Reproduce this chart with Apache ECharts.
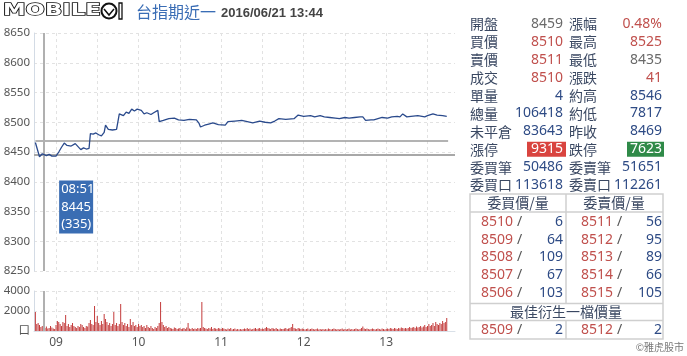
<!DOCTYPE html>
<html><head><meta charset="utf-8">
<script src="https://cdn.jsdelivr.net/npm/echarts@6/dist/echarts.min.js"></script>
<style>html,body{margin:0;padding:0;background:#fff}#c{width:687px;height:356px}</style>
</head><body><div id="c"></div>
<script>
// ---------- DATA ----------
const titleName = '台指期近一';
const titleTime = '2016/06/21 13:44';
const priceTicks = [8250, 8650, 50];
const volTicks = [0, 4000, 2000];
const hourLabels = ['09', '10', '11', '12', '13'];
const prevClose = 8469;
const cursorTime = '08:51', cursorPrice = 8445, cursorVol = 335;

const priceTimes = [
 '08:45','08:46','08:48','08:50','08:51','08:53','08:55','08:57','09:00','09:02',
 '09:04','09:06','09:08','09:09','09:11','09:12','09:14','09:16','09:18','09:20',
 '09:22','09:23','09:24','09:25','09:27','09:29','09:31','09:33','09:35','09:36',
 '09:38','09:41','09:44','09:45','09:46','09:49','09:51','09:53','09:55','09:57',
 '09:59','10:02','10:04','10:06','10:09','10:11','10:14','10:15','10:18','10:22',
 '10:26','10:29','10:33','10:37','10:42','10:44','10:45','10:48','10:51','10:54',
 '10:58','11:03','11:05','11:10','11:15','11:19','11:23','11:28','11:32','11:36',
 '11:39','11:42','11:47','11:53','11:56','12:00','12:05','12:08','12:12','12:15',
 '12:19','12:23','12:26','12:30','12:33','12:37','12:41','12:43','12:45','12:49',
 '12:51','12:54','12:57','13:01','13:04','13:08','13:10','13:12','13:15','13:18',
 '13:23','13:28','13:30','13:34','13:37','13:41','13:44'];
const priceValues = [
 8466,8458,8442,8447,8445,8444,8446,8443,8443,8450,
 8458,8465,8461,8464,8460,8463,8464,8459,8454,8457,
 8455,8453,8456,8481,8480,8482,8479,8477,8483,8495,
 8488,8487,8488,8490,8514,8511,8517,8515,8522,8519,
 8522,8520,8514,8516,8513,8516,8520,8501,8503,8506,
 8507,8504,8503,8505,8504,8498,8492,8495,8497,8499,
 8496,8495,8501,8502,8503,8501,8499,8502,8500,8499,
 8502,8506,8505,8506,8512,8510,8511,8509,8511,8509,
 8508,8507,8506,8508,8507,8508,8509,8509,8503,8504,
 8504,8506,8508,8507,8509,8510,8509,8514,8509,8510,
 8511,8509,8511,8514,8512,8511,8510];

// per-minute volume from 08:45
const volStart = '08:45';
const volumes = [
 1900,700,800,600,400,500,335,300,450,250,300,500,350,250,200,
 600,1000,900,700,500,900,800,1600,500,700,400,600,800,500,400,
 300,500,400,700,600,400,300,500,450,800,1100,700,600,2500,900,
 1500,800,600,1000,700,1700,1200,900,600,800,500,700,1900,600,800,
 500,700,2700,900,600,800,500,700,400,1200,600,900,500,600,400,
 700,500,600,400,500,300,600,400,300,500,300,200,400,300,500,
 800,2900,900,600,400,500,300,400,300,250,200,350,300,200,250,
 300,200,250,300,200,350,800,250,200,300,200,250,200,300,250,
 300,2900,400,300,250,200,300,250,400,200,300,250,200,300,250,
 200,300,250,200,150,250,200,300,150,200,250,150,200,150,200,
 150,200,250,200,300,200,250,150,200,250,300,200,250,300,200,
 250,200,300,400,300,250,200,300,250,200,300,200,150,250,200,
 200,250,300,200,250,300,400,700,300,250,200,300,250,200,250,
 200,150,200,250,150,200,250,200,150,200,250,150,200,150,200,
 150,200,150,250,200,150,200,250,200,150,200,150,200,250,150,
 200,150,200,250,150,200,150,200,250,200,150,200,300,450,250,
 200,250,200,150,200,250,200,150,200,250,200,150,250,200,150,
 200,250,200,300,250,200,300,250,200,300,250,350,300,250,300,
 250,300,400,300,350,400,300,450,350,400,500,350,450,600,400,
 500,700,500,600,800,500,900,700,600,800,700,1000,800,900,1300];

const quoteLabelsL = ['開盤','買價','賣價','成交','單量','總量','未平倉','漲停','委買筆','委買口'];
const quoteValuesL = ['8459','8510','8511','8510','4','106418','83643','9315','50486','113618'];
const quoteLabelsR = ['漲幅','最高','最低','漲跌','約高','約低','昨收','跌停','委賣筆','委賣口'];
const quoteValuesR = ['0.48%','8525','8435','41','8546','7817','8469','7623','51651','112261'];

const bookHeaders = ['委買價/量','委賣價/量'];
const bidPrices = ['8510','8509','8508','8507','8506'];
const bidQty = ['6','64','109','67','103'];
const askPrices = ['8511','8512','8513','8514','8515'];
const askQty = ['56','95','89','66','105'];
const bestTitle = '最佳衍生一檔價量';
const bestRow = ['8509','2','8512','2'];
const sourceText = '©雅虎股市';

// ---------- HELPERS ----------
const toMin = t => { const [h, m] = t.split(':').map(Number); return h * 60 + m; };
const FONT = "'Noto Sans CJK TC','Noto Sans',sans-serif";
const NUMFONT = "'Noto Sans','Noto Sans CJK TC',sans-serif";
const C = { label: '#3a4862', navy: '#2e4b85', red: '#c0504d', grey: '#6a6a6a', white: '#fff' };
const valColorL = [C.grey, C.red, C.red, C.red, C.navy, C.navy, C.navy, C.white, C.navy, C.navy];
const valColorR = [C.red, C.red, C.grey, C.red, C.navy, C.navy, C.navy, C.white, C.navy, C.navy];

const xMin = 524, xMax = 830;
const tickVals = []; for (let v = 540; v <= 810; v += 30) tickVals.push(v);
const labelVals = hourLabels.map(h => Number(h) * 60);

const priceData = priceTimes.map((t, i) => [toMin(t), priceValues[i]]);
const v0 = toMin(volStart);
const volData = volumes.map((v, i) => [v0 + i, v]);
const cursorMin = toMin(cursorTime);
const dataEnd = toMin(volStart) + 300;

const chart = echarts.init(document.getElementById('c'), null, { renderer: 'canvas' });

const gridLine = { show: true, lineStyle: { color: '#e2e2e2', type: [3, 3], width: 1 } };
const option = {
  animation: false,
  grid: [
    { left: 34, top: 33, width: 421, height: 238 },
    { left: 34, top: 291, width: 421, height: 40 }
  ],
  xAxis: [
    { type: 'value', gridIndex: 0, min: xMin, max: xMax,
      axisLine: { show: false }, axisTick: { show: false, customValues: tickVals },
      axisLabel: { show: false, customValues: labelVals }, splitLine: gridLine },
    { type: 'value', gridIndex: 1, min: xMin, max: xMax,
      axisLine: { show: true, lineStyle: { color: '#d9e0e8' } },
      axisTick: { show: false, customValues: tickVals },
      axisLabel: { show: true, customValues: labelVals, color: '#555', fontSize: 12, fontFamily: NUMFONT, margin: 6,
        formatter: v => String(Math.round(v / 60)).padStart(2, '0') },
      splitLine: gridLine }
  ],
  yAxis: [
    { type: 'value', gridIndex: 0, min: priceTicks[0], max: priceTicks[1], interval: priceTicks[2],
      axisLine: { show: true, lineStyle: { color: '#d3dbe5', width: 1 } }, axisTick: { show: false },
      axisLabel: { color: '#555', fontSize: 11.5, fontFamily: NUMFONT, margin: 4, formatter: v => String(v) }, splitLine: gridLine },
    { type: 'value', gridIndex: 1, min: volTicks[0], max: volTicks[1], interval: volTicks[2],
      axisLine: { show: true, lineStyle: { color: '#d3dbe5', width: 1 } }, axisTick: { show: false },
      axisLabel: { color: '#555', fontSize: 11.5, fontFamily: NUMFONT, margin: 4, formatter: v => v === 0 ? '口' : String(v) },
      splitLine: gridLine }
  ],
  series: [
    { type: 'line', xAxisIndex: 0, yAxisIndex: 0, data: priceData, showSymbol: false,
      lineStyle: { color: '#2a4a8c', width: 1.3 }, z: 5,
      markLine: { silent: true, symbol: 'none', label: { show: false },
        data: [
          [{ coord: [v0, prevClose], lineStyle: { color: '#9a9a9a', width: 1.5, type: 'solid' } }, { coord: [dataEnd, prevClose] }],
          { yAxis: cursorPrice, lineStyle: { color: '#a8a8a8', width: 2, type: 'solid' } },
          { xAxis: cursorMin, lineStyle: { color: '#b0b0b0', width: 2, type: 'solid' } }
        ] } },
    { type: 'bar', xAxisIndex: 1, yAxisIndex: 1, data: volData, barWidth: 1,
      itemStyle: { color: '#c33b3b' },
      markLine: { silent: true, symbol: 'none', label: { show: false },
        data: [{ xAxis: cursorMin, lineStyle: { color: '#b0b0b0', width: 2, type: 'solid' } }] } }
  ]
};
chart.setOption(option);

// ---------- GRAPHICS (title, quote panel, cursor box) ----------
const g = [];
// logo
g.push({ type: 'text', x: 3, y: 11, scaleX: 1.42, scaleY: 1, style: { x: 0, y: 0, text: 'MOBILE', font: "bold 16px 'DejaVu Sans'", fill: '#fff', stroke: '#111', lineWidth: 1.4, textVerticalAlign: 'middle' } });
g.push({ type: 'circle', shape: { cx: 109, cy: 11, r: 7.5 }, style: { fill: '#fff', stroke: '#111', lineWidth: 2 } });
g.push({ type: 'polyline', shape: { points: [[104, 9], [109, 15], [114, 9]] }, style: { stroke: '#111', lineWidth: 1.5, fill: null } });
g.push({ type: 'rect', shape: { x: 119, y: 3, width: 3, height: 16 }, style: { fill: '#fff', stroke: '#111', lineWidth: 1.3 } });
g.push({ type: 'text', style: { x: 136, y: 12, text: titleName, font: `16px ${FONT}`, fill: '#3a6db5', textVerticalAlign: 'middle' } });
g.push({ type: 'text', style: { x: 221, y: 13, text: titleTime, font: "bold 13px 'Liberation Sans'", fill: '#444', textVerticalAlign: 'middle' } });

// quote rows
const rowY = i => 24 + i * 17.9;
quoteLabelsL.forEach((lab, i) => {
  const y = rowY(i);
  g.push({ type: 'text', style: { x: 470, y, text: lab, font: `14px ${FONT}`, fill: C.label, textVerticalAlign: 'middle' } });
  g.push({ type: 'text', style: { x: 569, y, text: quoteLabelsR[i], font: `14px ${FONT}`, fill: C.label, textVerticalAlign: 'middle' } });
  if (i === 7) {
    g.push({ type: 'rect', shape: { x: 527, y: y - 7.5, width: 39, height: 15 }, style: { fill: '#d9443f' } });
    g.push({ type: 'rect', shape: { x: 627, y: y - 7.5, width: 37, height: 15 }, style: { fill: '#2f8a48' } });
  }
  g.push({ type: 'text', style: { x: 563, y, text: quoteValuesL[i], font: `14px ${NUMFONT}`, fill: valColorL[i], textAlign: 'right', textVerticalAlign: 'middle' } });
  g.push({ type: 'text', style: { x: 662, y, text: quoteValuesR[i], font: `14px ${NUMFONT}`, fill: valColorR[i], textAlign: 'right', textVerticalAlign: 'middle' } });
});

// order book table
const border = { stroke: '#cfcfcf', lineWidth: 1.5, fill: null };
g.push({ type: 'rect', shape: { x: 470, y: 194, width: 193, height: 145 }, style: border });
g.push({ type: 'line', shape: { x1: 470, y1: 212, x2: 663, y2: 212 }, style: border });
g.push({ type: 'line', shape: { x1: 470, y1: 303.5, x2: 663, y2: 303.5 }, style: border });
g.push({ type: 'line', shape: { x1: 470, y1: 320.5, x2: 663, y2: 320.5 }, style: border });
g.push({ type: 'line', shape: { x1: 566, y1: 194, x2: 566, y2: 303.5 }, style: border });
g.push({ type: 'line', shape: { x1: 566, y1: 320.5, x2: 566, y2: 339 }, style: border });
g.push({ type: 'text', style: { x: 518, y: 203, text: bookHeaders[0], font: `14px ${FONT}`, fill: C.label, textAlign: 'center', textVerticalAlign: 'middle' } });
g.push({ type: 'text', style: { x: 614, y: 203, text: bookHeaders[1], font: `14px ${FONT}`, fill: C.label, textAlign: 'center', textVerticalAlign: 'middle' } });
function bookRow(y, bp, bq, ap, aq) {
  g.push({ type: 'text', style: { x: 481, y, text: bp, font: `14px ${NUMFONT}`, fill: C.red, textVerticalAlign: 'middle' } });
  g.push({ type: 'text', style: { x: 517, y, text: '/', font: `14px ${NUMFONT}`, fill: '#555', textVerticalAlign: 'middle' } });
  g.push({ type: 'text', style: { x: 563, y, text: bq, font: `14px ${NUMFONT}`, fill: C.navy, textAlign: 'right', textVerticalAlign: 'middle' } });
  g.push({ type: 'text', style: { x: 581, y, text: ap, font: `14px ${NUMFONT}`, fill: C.red, textVerticalAlign: 'middle' } });
  g.push({ type: 'text', style: { x: 617, y, text: '/', font: `14px ${NUMFONT}`, fill: '#555', textVerticalAlign: 'middle' } });
  g.push({ type: 'text', style: { x: 662, y, text: aq, font: `14px ${NUMFONT}`, fill: C.navy, textAlign: 'right', textVerticalAlign: 'middle' } });
}
bidPrices.forEach((p, i) => bookRow(222 + i * 17.75, p, bidQty[i], askPrices[i], askQty[i]));
g.push({ type: 'text', style: { x: 566, y: 312, text: bestTitle, font: `14px ${FONT}`, fill: C.label, textAlign: 'center', textVerticalAlign: 'middle' } });
bookRow(330, bestRow[0], bestRow[1], bestRow[2], bestRow[3]);
g.push({ type: 'text', style: { x: 684, y: 347, text: sourceText, font: `10px ${FONT}`, fill: '#777', textAlign: 'right', textVerticalAlign: 'middle' } });

// cursor info box
const p = chart.convertToPixel({ gridIndex: 0 }, [cursorMin, cursorPrice]);
const bx = p[0] + 15.5, by = p[1] + 25.5;
g.push({ type: 'rect', shape: { x: bx, y: by, width: 34, height: 53 }, style: { fill: '#3a6db3' }, z: 50 });
[cursorTime, String(cursorPrice), '(' + cursorVol + ')'].forEach((t, i) => {
  g.push({ type: 'text', z: 51, style: { x: bx + 2, y: by + 9 + i * 17.5, text: t, font: `13px ${NUMFONT}`, fill: '#fff', textVerticalAlign: 'middle' } });
});

chart.setOption({ graphic: { elements: g } });
</script>
</body></html>
